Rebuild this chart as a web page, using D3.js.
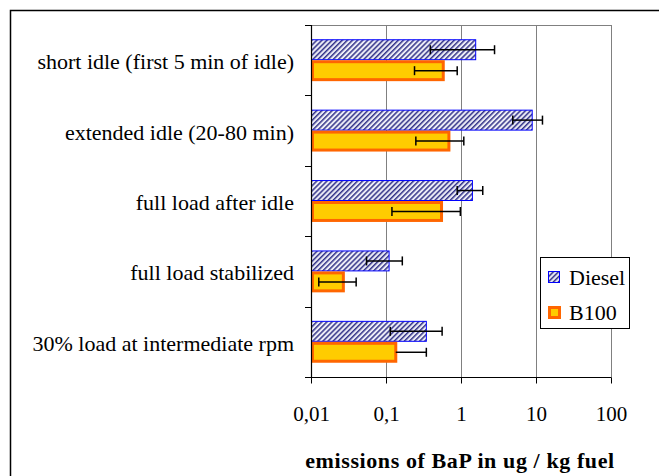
<!DOCTYPE html>
<html>
<head>
<meta charset="utf-8">
<script src="https://cdn.jsdelivr.net/npm/d3@7"></script>
<style>
  body { margin: 0; background: #fff; }
  text { font-family: "Liberation Serif", "Times New Roman", serif; }
</style>
</head>
<body>
<script>
var categories = ["short idle (first 5 min of idle)", "extended idle (20-80 min)",
  "full load after idle", "full load stabilized", "30% load at intermediate rpm"];
var series = ["Diesel", "B100"];
var diesel = [1.57, 8.9, 1.42, 0.11, 0.345];
var dieselLow = [0.39, 4.9, 0.89, 0.055, 0.114];
var dieselHigh = [2.8, 12.2, 1.95, 0.165, 0.56];
var b100 = [0.58, 0.69, 0.55, 0.027, 0.135];
var b100Low = [0.24, 0.25, 0.12, 0.0127, 0.135];
var b100High = [0.89, 1.09, 0.98, 0.040, 0.345];
var xTicks = [0.01, 0.1, 1, 10, 100];
var xTickLabels = ["0,01", "0,1", "1", "10", "100"];

var width = 659, height = 476;

var svg = d3.select("body").append("svg")
  .attr("width", width)
  .attr("height", height);

// hatch pattern for diesel
var defs = svg.append("defs");
var pat = defs.append("pattern")
  .attr("id", "hatch")
  .attr("patternUnits", "userSpaceOnUse")
  .attr("width", 3.6).attr("height", 3.6)
  .attr("patternTransform", "rotate(45)");
pat.append("rect").attr("width", 3.6).attr("height", 3.6).attr("fill", "#ececf6");
pat.append("rect").attr("width", 1.5).attr("height", 3.6).attr("fill", "#35358a");

// outer frame
svg.append("rect")
  .attr("x", 10.5).attr("y", 10.5)
  .attr("width", 700).attr("height", 500)
  .attr("fill", "none").attr("stroke", "#000").attr("stroke-width", 1.5);

var x = d3.scaleLog().domain([0.01, 100]).range([311, 611]);
var y = d3.scaleBand().domain(categories).range([25, 377]);
var yInner = d3.scaleBand().domain(series).range([0, y.bandwidth()]).paddingOuter(0.68);

// gridlines
svg.append("g").selectAll("line")
  .data(xTicks.slice(1))
  .enter().append("line")
  .attr("x1", function(d) { return Math.round(x(d)) + 0.5; })
  .attr("x2", function(d) { return Math.round(x(d)) + 0.5; })
  .attr("y1", 25).attr("y2", 377)
  .attr("stroke", "#808080");

svg.append("line")
  .attr("x1", 311).attr("x2", 611.5)
  .attr("y1", 25.5).attr("y2", 25.5)
  .attr("stroke", "#808080");

var rows = categories.map(function(c, i) {
  return { cat: c, vals: [
    { s: "Diesel", v: diesel[i], lo: dieselLow[i], hi: dieselHigh[i] },
    { s: "B100", v: b100[i], lo: b100Low[i], hi: b100High[i] }
  ]};
});

var g = svg.append("g").selectAll("g")
  .data(rows)
  .enter().append("g")
  .attr("transform", function(d) { return "translate(0," + y(d.cat) + ")"; });

var bars = g.selectAll("g.bar")
  .data(function(d) { return d.vals; })
  .enter().append("g").attr("class", "bar");

bars.append("rect")
  .attr("x", function(d) { return d.s == "Diesel" ? x(0.01) + 0.5 : x(0.01) + 1.5; })
  .attr("y", function(d) { return yInner(d.s) + (d.s == "Diesel" ? 0.5 : 1.5); })
  .attr("width", function(d) { return x(d.v) - x(0.01) - (d.s == "Diesel" ? 0.5 : 1.5); })
  .attr("height", function(d) { return yInner.bandwidth() - (d.s == "Diesel" ? 1 : 3); })
  .attr("fill", function(d) { return d.s == "Diesel" ? "url(#hatch)" : "#ffcc00"; })
  .attr("stroke", function(d) { return d.s == "Diesel" ? "#0000ff" : "#ff6600"; })
  .attr("stroke-width", function(d) { return d.s == "Diesel" ? 1 : 3; });

// error bars
bars.append("line")
  .attr("x1", function(d) { return x(d.lo); })
  .attr("x2", function(d) { return x(d.hi); })
  .attr("y1", function(d) { return yInner(d.s) + yInner.bandwidth() / 2; })
  .attr("y2", function(d) { return yInner(d.s) + yInner.bandwidth() / 2; })
  .attr("stroke", "#000").attr("stroke-width", 1.5);

bars.append("line")
  .attr("x1", function(d) { return x(d.hi); })
  .attr("x2", function(d) { return x(d.hi); })
  .attr("y1", function(d) { return yInner(d.s) + yInner.bandwidth() / 2 - 4.5; })
  .attr("y2", function(d) { return yInner(d.s) + yInner.bandwidth() / 2 + 4.5; })
  .attr("stroke", "#000").attr("stroke-width", 1.5);

bars.filter(function(d) { return d.lo < d.v; }).append("line")
  .attr("x1", function(d) { return x(d.lo); })
  .attr("x2", function(d) { return x(d.lo); })
  .attr("y1", function(d) { return yInner(d.s) + yInner.bandwidth() / 2 - 4.5; })
  .attr("y2", function(d) { return yInner(d.s) + yInner.bandwidth() / 2 + 4.5; })
  .attr("stroke", "#000").attr("stroke-width", 1.5);

// y axis
svg.append("line")
  .attr("x1", 311.5).attr("x2", 311.5)
  .attr("y1", 25).attr("y2", 378)
  .attr("stroke", "#000").attr("stroke-width", 1.2);

var bounds = categories.map(function(c) { return y(c); }).concat([y.range()[1]]);
svg.append("g").selectAll("line")
  .data(bounds)
  .enter().append("line")
  .attr("x1", 305).attr("x2", 311)
  .attr("y1", function(d) { return Math.round(d) + 0.5; })
  .attr("y2", function(d) { return Math.round(d) + 0.5; })
  .attr("stroke", "#000");

svg.append("g").selectAll("text")
  .data(categories)
  .enter().append("text")
  .attr("x", 294)
  .attr("y", function(d) { return y(d) + y.bandwidth() / 2 + 9; })
  .attr("text-anchor", "end")
  .attr("font-size", 22)
  .text(function(d) { return d; });

// x axis
var xAxis = d3.axisBottom(x)
  .tickValues(xTicks)
  .tickSize(6)
  .tickPadding(23)
  .tickFormat(function(d, i) { return xTickLabels[i]; });

var ax = svg.append("g")
  .attr("transform", "translate(0,377.5)")
  .call(xAxis);
ax.select(".domain").attr("d", "M311,0H611.5").attr("stroke", "#000");
ax.selectAll("text")
  .attr("font-size", 21)
  .attr("fill", "#000");

svg.append("text")
  .attr("x", 460).attr("y", 468)
  .attr("text-anchor", "middle")
  .attr("font-size", 22)
  .attr("font-weight", "bold")
  .attr("letter-spacing", 0.6)
  .text("emissions of BaP in ug / kg fuel");

// legend
var lg = svg.append("g");
lg.append("rect")
  .attr("x", 540.5).attr("y", 257.5)
  .attr("width", 89).attr("height", 71)
  .attr("fill", "#fff").attr("stroke", "#000");

var li = lg.selectAll("g")
  .data(series)
  .enter().append("g")
  .attr("transform", function(d, i) { return "translate(548," + (271 + i * 35) + ")"; });

li.append("rect")
  .attr("x", function(d) { return d == "Diesel" ? 0.5 : 1.5; })
  .attr("y", function(d) { return d == "Diesel" ? 0.5 : 1.5; })
  .attr("width", function(d) { return d == "Diesel" ? 11 : 10; })
  .attr("height", function(d) { return d == "Diesel" ? 11 : 10; })
  .attr("fill", function(d) { return d == "Diesel" ? "url(#hatch)" : "#ffcc00"; })
  .attr("stroke", function(d) { return d == "Diesel" ? "#0000ff" : "#ff6600"; })
  .attr("stroke-width", function(d) { return d == "Diesel" ? 1 : 3; });

li.append("text")
  .attr("x", 21).attr("y", 14)
  .attr("font-size", 22)
  .text(function(d) { return d; });
</script>
</body>
</html>
